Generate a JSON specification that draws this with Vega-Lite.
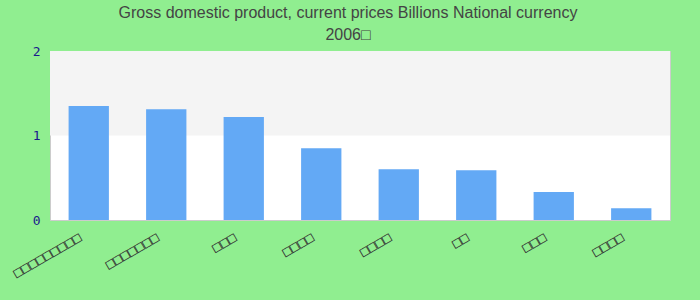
{
  "$schema": "https://vega.github.io/schema/vega-lite/v6.json",
  "width": 620,
  "height": 169,
  "autosize": {"type": "none"},
  "padding": {"left": 50, "top": 51, "right": 30, "bottom": 80},
  "background": "#90EE90",
  "title": {
    "text": ["Gross domestic product, current prices Billions National currency", "2006□"],
    "fontSize": 16,
    "font": "Liberation Sans",
    "fontWeight": "normal",
    "color": "#444444",
    "lineHeight": 22,
    "anchor": "middle",
    "dx": -12,
    "offset": 2
  },
  "config": {
    "view": {"stroke": "#cccccc", "strokeWidth": 1, "fill": "#ffffff"},
    "axisY": {
      "title": null,
      "labelFont": "DejaVu Sans Mono",
      "labelFontSize": 13,
      "labelColor": "#1a1a8c",
      "labelPadding": 10,
      "labelOverlap": false,
      "labelBound": false,
      "labelFlush": false,
      "ticks": false,
      "domain": false,
      "grid": false
    }
  },
  "datasets": {
    "bars": [
      {"name": "□□□□□□□□□", "value": 1.35},
      {"name": "□□□□□□□", "value": 1.31},
      {"name": "□□□", "value": 1.22},
      {"name": "□□□□", "value": 0.85},
      {"name": "□□□□ ", "value": 0.60},
      {"name": "□□", "value": 0.59},
      {"name": "□□□ ", "value": 0.33},
      {"name": "□□□□  ", "value": 0.14}
    ],
    "bands": [
      {"lo": 1, "hi": 2}
    ]
  },
  "layer": [
    {
      "data": {"name": "bands"},
      "mark": {"type": "rect", "color": "#f4f4f4"},
      "encoding": {
        "y": {"field": "lo", "type": "quantitative", "scale": {"domain": [0, 2]}, "axis": {"values": [0, 1, 2], "format": ".0f", "title": null}},
        "y2": {"field": "hi"}
      }
    },
    {
      "data": {"name": "bars"},
      "mark": {"type": "bar", "color": "#63a9f5"},
      "encoding": {
        "x": {
          "field": "name",
          "type": "nominal",
          "sort": null,
          "scale": {"paddingInner": 0.48, "paddingOuter": 0.24},
          "axis": {
            "title": null,
            "labelAngle": -30,
            "labelAlign": "right",
            "labelBaseline": "top",
            "labelFont": "DejaVu Sans Mono",
            "labelFontSize": 14,
            "labelColor": "#333333",
            "labelPadding": 10,
            "labelOffset": -12,
            "labelOverlap": false,
            "ticks": false,
            "domain": false,
            "grid": false
          }
        },
        "y": {
          "field": "value",
          "type": "quantitative",
          "scale": {"domain": [0, 2]},
          "axis": {"values": [0, 1, 2], "format": ".0f", "title": null}
        }
      }
    }
  ]
}
